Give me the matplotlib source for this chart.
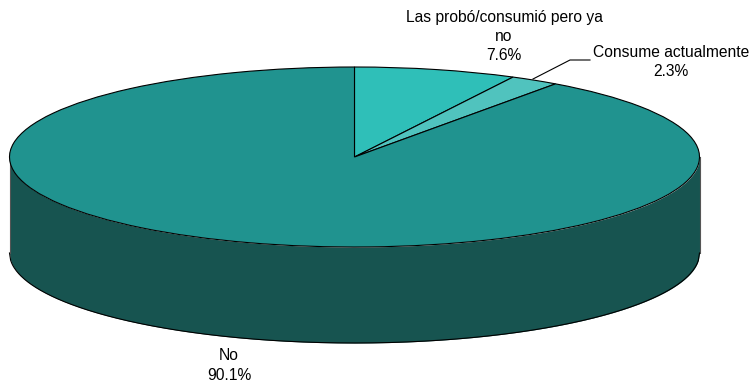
import numpy as np
import matplotlib
matplotlib.use("Agg")
import matplotlib.pyplot as plt

plt.rcParams["font.family"] = ["Liberation Sans", "DejaVu Sans"]

# Values, clockwise from 12 o'clock
labels = ["Las probó/consumió pero ya\nno", "Consume actualmente", "No"]
shares = [7.6, 2.3, 90.1]
colors = ["#2FBFB8", "#50C3BE", "#20938F"]

W, H = 751, 382
CX, CY = 354.5, 157  # centre of the top ellipse, px
RX, RY = 345, 90     # ellipse radii, px
DEPTH = 96 / RY      # height of the cylinder wall


def px(x, y):
    # image pixels to the pie's data coords
    return (x - CX) / RX, (CY - y) / RY


fig = plt.figure(figsize=(W / 100, H / 100), dpi=100)
ax = fig.add_axes([0, 0, 1, 1])

ax.pie(
    shares,
    colors=colors,
    startangle=90,
    counterclock=False,
    normalize=True,
    wedgeprops={"edgecolor": "black", "linewidth": 0.8, "zorder": 3},
)
ax.set_aspect("auto")
ax.set_xlim(px(0, 0)[0], px(W, 0)[0])
ax.set_ylim(px(0, H)[1], px(0, 0)[1])
ax.axis("off")

# cylinder wall under the front of the pie
xs = np.linspace(-1, 1, 600)
front = -np.sqrt(1 - xs**2)
ax.fill_between(xs, front - DEPTH, front, color="#175450", zorder=1, linewidth=0)
ax.plot(np.r_[xs], np.r_[front - DEPTH], color="black", linewidth=0.8, zorder=2)
# the straight wall edges are lighter than the curves
for side in (-1, 1):
    ax.plot([side, side], [0, -DEPTH], color="#555555", linewidth=0.8, zorder=2)

# leader line for the small slice
lx, ly = zip(px(533, 79), px(570, 60), px(590, 60))
ax.plot(lx, ly, color="black", linewidth=0.8, zorder=4)

label_pos = [(504, 36.5), (671, 62), (229, 365.5)]
for text, share, (x, y) in zip(labels, shares, label_pos):
    tx, ty = px(x, y)
    ax.text(
        tx, ty, f"{text}\n{share}%",
        ha="center", va="center", fontsize=11.25, color="black",
        linespacing=1.37, zorder=5,
    )

fig.savefig("out.png", dpi=100)
